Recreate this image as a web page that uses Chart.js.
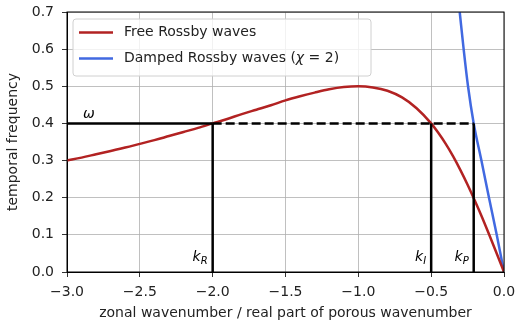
<!DOCTYPE html>
<html>
<head>
<meta charset="utf-8">
<script src="https://cdn.jsdelivr.net/npm/chart.js@4.4.1/dist/chart.umd.min.js"></script>
<style>
  html, body { margin: 0; padding: 0; background: #fff; }
  #wrap { width: 524px; height: 329px; }
</style>
</head>
<body>
<div id="wrap"><canvas id="chart"></canvas></div>
<script>
// Free Rossby waves
const freeK = [-3.0, -2.9, -2.8, -2.7, -2.6, -2.5, -2.4, -2.3, -2.2, -2.1, -2.0, -1.9, -1.8, -1.7, -1.6,
    -1.5, -1.4, -1.3, -1.2, -1.1, -1.0, -0.9, -0.8, -0.7, -0.6, -0.5, -0.45, -0.4, -0.35, -0.3,
    -0.25, -0.2, -0.15, -0.1, -0.05, 0.0];
const freeOmega = [0.300, 0.308, 0.317, 0.326, 0.335, 0.345, 0.355, 0.366, 0.377, 0.388, 0.400, 0.412,
    0.425, 0.437, 0.449, 0.462, 0.473, 0.483, 0.492, 0.498, 0.500, 0.497, 0.488, 0.470, 0.441,
    0.400, 0.374, 0.345, 0.312, 0.275, 0.235, 0.192, 0.147, 0.099, 0.050, 0.000];

// Damped Rossby waves (chi = 2)
const dampedK = [-0.304, -0.277, -0.247, -0.208, -0.155, -0.103, -0.050, 0.0];
const dampedOmega = [0.70, 0.60, 0.50, 0.40, 0.30, 0.20, 0.10, 0.0];

// marked frequency and wavenumbers
const omega0 = 0.4;
const kR = -2.0;
const kI = -0.5;
const kP = -0.208;

const xTicks = [-3.0, -2.5, -2.0, -1.5, -1.0, -0.5, 0.0];
const yTicks = [0.0, 0.1, 0.2, 0.3, 0.4, 0.5, 0.6, 0.7];

const toPoints = (xs, ys) => xs.map((x, i) => ({ x, y: ys[i] }));
const fmt = (v) => v.toFixed(1).replace('-', '\u2212');

const FONT = 'DejaVu Sans';
const RED = '#b22222';
const BLUE = '#4169e1';

// frame, legend and the k / omega labels
const overlay = {
    id: 'overlay',
    afterDraw(chart) {
        const { ctx, chartArea: a, scales: { x, y } } = chart;
        ctx.save();
        ctx.strokeStyle = '#000';
        ctx.lineWidth = 1;
        ctx.strokeRect(a.left, a.top, a.right - a.left, a.bottom - a.top);

        // italic math labels
        ctx.fillStyle = '#000';
        ctx.textBaseline = 'alphabetic';
        const sub = (main, s, xr, yb) => {
            ctx.font = 'italic 14px ' + FONT;
            const w1 = ctx.measureText(main).width;
            ctx.font = 'italic 10px ' + FONT;
            const w2 = ctx.measureText(s).width;
            const x0 = xr - w1 - w2;
            ctx.font = 'italic 14px ' + FONT;
            ctx.fillText(main, x0, yb);
            ctx.font = 'italic 10px ' + FONT;
            ctx.fillText(s, x0 + w1, yb + 3);
        };
        const yb = y.getPixelForValue(0.03);
        sub('k', 'R', x.getPixelForValue(kR) - 5, yb);
        sub('k', 'I', x.getPixelForValue(kI) - 5, yb);
        sub('k', 'P', x.getPixelForValue(kP) - 5, yb);
        ctx.font = 'italic 14px ' + FONT;
        ctx.fillText('\u03c9', x.getPixelForValue(-2.89), y.getPixelForValue(omega0) - 5);

        // legend box
        const bx = a.left + 6, by = a.top + 7, bw = 298, bh = 57;
        ctx.beginPath();
        ctx.roundRect(bx, by, bw, bh, 3);
        ctx.fillStyle = 'rgba(255,255,255,0.8)';
        ctx.fill();
        ctx.strokeStyle = '#d0d0d0';
        ctx.lineWidth = 1;
        ctx.stroke();
        const items = chart.data.datasets.filter(d => d.legend);
        items.forEach((d, i) => {
            const ly = by + 13.5 + i * 26;
            ctx.strokeStyle = d.borderColor;
            ctx.lineWidth = 2.5;
            ctx.beginPath();
            ctx.moveTo(bx + 6, ly);
            ctx.lineTo(bx + 40, ly);
            ctx.stroke();
            ctx.fillStyle = '#222';
            ctx.textBaseline = 'middle';
            let tx = bx + 51;
            d.legend.forEach(([txt, it]) => {
                ctx.font = (it ? 'italic ' : '') + '14px ' + FONT;
                ctx.fillText(txt, tx, ly);
                tx += ctx.measureText(txt).width;
            });
        });
        ctx.restore();
    }
};

const blackLine = (pts, dash) => ({
    data: pts,
    borderColor: '#000',
    borderWidth: 2.5,
    borderDash: dash || [],
    pointRadius: 0,
    showLine: true,
    fill: false
});

new Chart(document.getElementById('chart'), {
    type: 'scatter',
    data: {
        datasets: [
            blackLine([{ x: -3, y: omega0 }, { x: kR, y: omega0 }]),
            blackLine([{ x: kR, y: omega0 }, { x: kP, y: omega0 }], [9, 4]),
            blackLine([{ x: kR, y: 0 }, { x: kR, y: omega0 }]),
            blackLine([{ x: kI, y: 0 }, { x: kI, y: omega0 }]),
            blackLine([{ x: kP, y: 0 }, { x: kP, y: omega0 }]),
            {
                label: 'Free Rossby waves',
                legend: [['Free Rossby waves', false]],
                data: toPoints(freeK, freeOmega),
                borderColor: RED,
                borderWidth: 2.5,
                pointRadius: 0,
                showLine: true,
                cubicInterpolationMode: 'monotone'
            },
            {
                label: 'Damped Rossby waves (\u03c7 = 2)',
                legend: [['Damped Rossby waves (', false], ['\u03c7', true], [' = 2)', false]],
                data: toPoints(dampedK, dampedOmega),
                borderColor: BLUE,
                borderWidth: 2.5,
                pointRadius: 0,
                showLine: true,
                cubicInterpolationMode: 'monotone'
            }
        ]
    },
    options: {
        responsive: true,
        maintainAspectRatio: false,
        animation: false,
        layout: { padding: { top: 12, right: 20, left: 0, bottom: 0 } },
        plugins: {
            legend: { display: false },
            tooltip: { enabled: false }
        },
        scales: {
            x: {
                type: 'linear',
                min: -3,
                max: 0,
                afterBuildTicks: (s) => { s.ticks = xTicks.map(v => ({ value: v })); },
                afterFit: (s) => { s.height = 57; },
                grid: { color: '#b0b0b0', lineWidth: 0.8, tickColor: '#000', tickLength: 5 },
                border: { color: '#000', width: 1 },
                ticks: {
                    color: '#222',
                    padding: 7,
                    maxRotation: 0,
                    font: { family: FONT, size: 14 },
                    callback: (v) => fmt(v)
                },
                title: {
                    display: true,
                    text: 'zonal wavenumber / real part of porous wavenumber',
                    color: '#222',
                    font: { family: FONT, size: 14 },
                    padding: { top: 0, bottom: 7 }
                }
            },
            y: {
                min: 0,
                max: 0.7,
                afterBuildTicks: (s) => { s.ticks = yTicks.map(v => ({ value: v })); },
                afterFit: (s) => { s.width = 67; s.paddingTop = 0; s.paddingBottom = 0; },
                grid: { color: '#b0b0b0', lineWidth: 0.8, tickColor: '#000', tickLength: 5 },
                border: { color: '#000', width: 1 },
                ticks: {
                    color: '#222',
                    padding: 8,
                    font: { family: FONT, size: 14 },
                    callback: (v) => fmt(v)
                },
                title: {
                    display: true,
                    text: 'temporal frequency',
                    color: '#222',
                    font: { family: FONT, size: 14 },
                    padding: { top: 5, bottom: 0 }
                }
            }
        }
    },
    plugins: [overlay]
});
</script>
</body>
</html>
